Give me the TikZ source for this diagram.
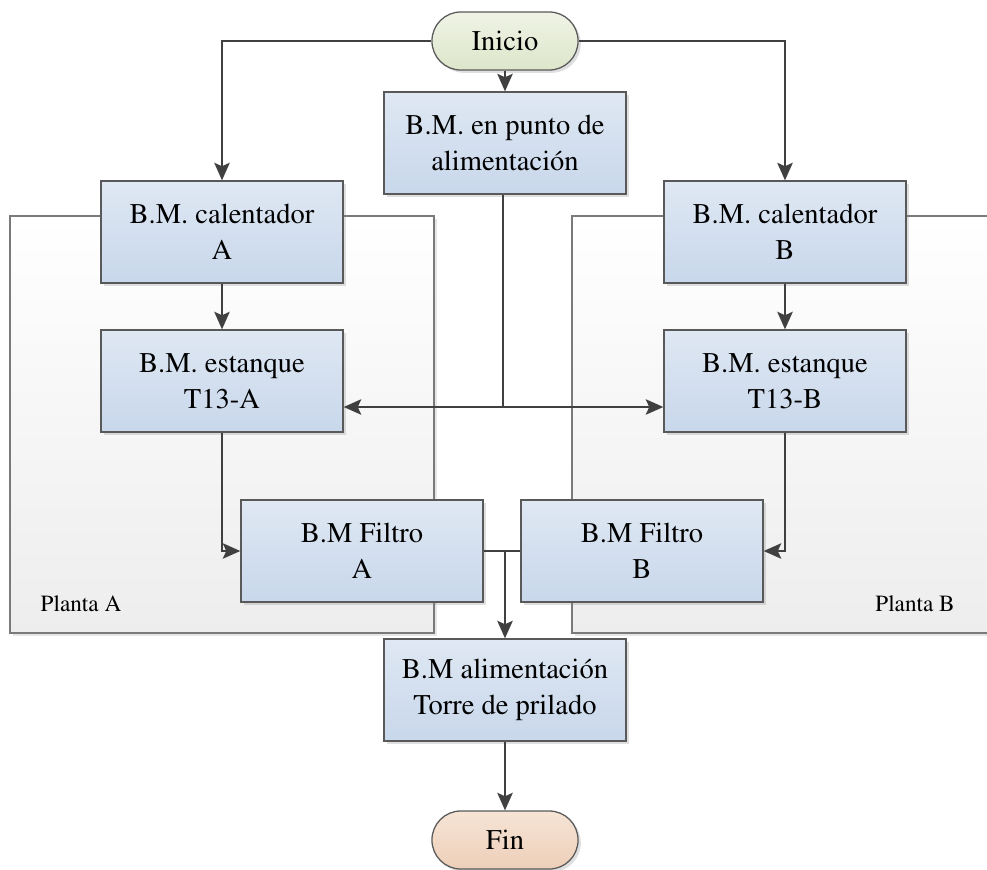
\documentclass[tikz,border=0pt]{standalone}
\usepackage[T1]{fontenc}
\usepackage{times}
\usetikzlibrary{arrows.meta,shadows,positioning}

\definecolor{borde}{HTML}{595959}
\definecolor{flecha}{HTML}{404040}
\definecolor{azulA}{HTML}{DFE8F3}
\definecolor{azulB}{HTML}{C8D7EB}
\definecolor{verdeA}{HTML}{EFF3E6}
\definecolor{verdeB}{HTML}{DDE6CA}
\definecolor{rosaA}{HTML}{F6E4D6}
\definecolor{rosaB}{HTML}{EDCFB8}

\begin{document}
\begin{tikzpicture}[x=0.025cm, y=-0.025cm, >={Stealth[length=12.5pt,width=11pt,inset=2.5pt]}]

        % Styles for nodes
        \tikzstyle{bloque} = [draw=borde, line width=0.9pt, top color=azulA, bottom color=azulB,
            minimum width=6.05cm, minimum height=2.55cm, align=center,
            font=\fontsize{20.3}{25.5}\selectfont,
            drop shadow={shadow xshift=2pt, shadow yshift=-2pt, opacity=0.25}]
        \tikzstyle{terminal} = [draw=borde, line width=0.9pt, rounded corners=0.72cm,
            minimum width=3.65cm, minimum height=1.45cm,
            font=\fontsize{20.3}{25.5}\selectfont,
            drop shadow={shadow xshift=2pt, shadow yshift=-2pt, opacity=0.25}]
        \tikzstyle{planta} = [draw=borde!80, line width=0.8pt, top color=white, bottom color=black!7,
            drop shadow={shadow xshift=2pt, shadow yshift=-2pt, opacity=0.2}]
        \tikzstyle{conector} = [draw=flecha, line width=1.4pt]

        \useasboundingbox (0,0) rectangle (987,869);
        \clip (0,0) rectangle (987,869);

        % Plantas
        \path[planta] (10,216) rectangle (434,633);
        \path[planta] (572,216) rectangle (1010,633);
        \node (etqA) at (81,604) {\fontsize{16.5}{20}\selectfont Planta A};
        \node (etqB) at (915,604) {\fontsize{16.5}{20}\selectfont Planta B};

        % Nodes
        \node[terminal, top color=verdeA, bottom color=verdeB] (inicio) at (505,41) {Inicio};
        \node[bloque] (punto) at (505,143) {B.M. en punto de\\alimentaci\'on};
        \node[bloque] (calA) at (222,232) {B.M. calentador\\A};
        \node[bloque] (calB) at (785,232) {B.M. calentador\\B};
        \node[bloque] (estA) at (222,381) {B.M. estanque\\T13-A};
        \node[bloque] (estB) at (785,381) {B.M. estanque\\T13-B};
        \node[bloque] (filA) at (362,551) {B.M Filtro\\A};
        \node[bloque] (filB) at (642,551) {B.M Filtro\\B};
        \node[bloque] (torre) at (505,690) {B.M alimentaci\'on\\Torre de prilado};
        \node[terminal, top color=rosaA, bottom color=rosaB] (fin) at (505,840) {Fin};

        \coordinate (rep) at (503,407);
        \coordinate (une) at (torre.north |- filA.east);

        % Arrows
        \draw[->, conector] (inicio.west) -| (calA.north);
        \draw[->, conector] (inicio.east) -| (calB.north);
        \draw[->, conector] (inicio) -- (punto);
        \draw[conector] (punto.south -| rep) -- (rep);
        \draw[->, conector] (rep) -- (rep -| estA.east);
        \draw[->, conector] (rep) -- (rep -| estB.west);
        \draw[->, conector] (calA) -- (estA);
        \draw[->, conector] (calB) -- (estB);
        \draw[->, conector] (estA.south) |- (filA.west);
        \draw[->, conector] (estB.south) |- (filB.east);
        \draw[conector] (filA.east) -- (filB.west);
        \draw[->, conector] (une) -- (torre);
        \draw[->, conector] (torre) -- (fin);

\end{tikzpicture}
\end{document}
